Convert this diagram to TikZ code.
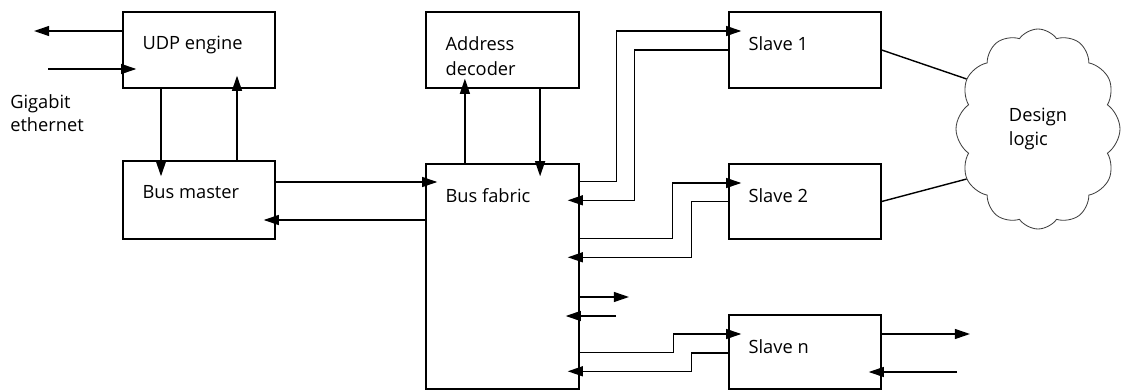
\documentclass[tikz,border=0pt]{standalone}
\usepackage{fontspec}
\setmainfont{Open Sans}
\usetikzlibrary{arrows.meta,positioning,shapes.symbols}

\tikzset{
  blk/.style={draw, line width=1pt, minimum width=3.8cm, minimum height=1.9cm, inner sep=0pt},
  tag/.style={anchor=north west, inner sep=0pt, xshift=0.5cm, yshift=-0.62cm, align=left, font=\fontsize{13}{18}\selectfont},
  txt/.style={inner sep=0pt, align=left, font=\fontsize{13}{16.5}\selectfont},
  sig/.style={line width=1pt, -{Triangle[length=0.38cm, width=0.25cm]}},
  wire/.style={line width=1pt},
}

\begin{document}
\begin{tikzpicture}
  \useasboundingbox (0,0) rectangle (28.05,9.75);

  % Blocks
  \node[blk, label={[tag]north west:UDP engine}] (udp) at (4.975,8.5) {};
  \node[blk, minimum height=1.95cm, label={[tag]north west:Bus master}] (master) at (4.975,4.75) {};
  \node[blk, minimum width=3.825cm, label={[tag]north west:Address\\decoder}] (addr) at (12.5625,8.5) {};
  \node[blk, minimum width=3.825cm, minimum height=5.625cm, label={[tag]north west:Bus fabric}] (fabric) at (12.5625,2.8375) {};
  \node[blk, label={[tag]north west:Slave 1}] (sl1) at (20.125,8.5) {};
  \node[blk, minimum height=1.875cm, label={[tag]north west:Slave 2}] (sl2) at (20.125,4.7125) {};
  \node[blk, minimum height=1.85cm, label={[tag]north west:Slave n}] (sln) at (20.125,0.95) {};

  % Design logic cloud
  \node[cloud, draw=black!75, line width=0.6pt, cloud puffs=12, cloud puff arc=110, aspect=0.85,
        minimum width=4.1cm, minimum height=5cm, txt] (logic) at (25.95,6.525) {Design\\logic};

  % Gigabit ethernet
  \node[txt, anchor=north west] (giga) at (0.25,7.4) {Gigabit\\ethernet};
  \coordinate (ethout) at (0.85,8.975);
  \coordinate (ethin) at (1.2,8.025);
  \draw[sig] (udp.west |- ethout) -- (ethout);
  \draw[sig, shorten >=-0.35cm] (ethin) -- (ethin -| udp.west);

  % UDP engine <-> bus master
  \draw[sig, shorten >=-0.4cm] ([xshift=-0.95cm]udp.south) -- ([xshift=-0.95cm]master.north);
  \draw[sig, shorten >=-0.325cm] ([xshift=0.95cm]master.north) -- ([xshift=0.95cm]udp.south);

  % Bus master <-> bus fabric
  \draw[sig, shorten >=-0.3cm] ([yshift=0.45cm]master.east) -- ([yshift=0.45cm]master.east -| fabric.west);
  \draw[sig, shorten >=-0.3cm] ([yshift=-0.5cm]master.east -| fabric.west) -- ([yshift=-0.5cm]master.east);

  % Bus fabric <-> address decoder
  \draw[sig, shorten >=-0.25cm] ([xshift=-0.94cm]fabric.north) -- ([xshift=-0.94cm]addr.south);
  \draw[sig, shorten >=-0.325cm] ([xshift=0.94cm]addr.south) -- ([xshift=0.94cm]fabric.north);

  % Bus fabric <-> slaves
  \draw[sig, shorten >=-0.325cm] ([yshift=-0.45cm]fabric.north east) -- ++(0.925,0) |- ([yshift=0.475cm]sl1.west);
  \draw[sig, shorten >=-0.3cm] (sl1.west) -- ++(-2.35,0) |- ([yshift=-0.925cm]fabric.north east);
  \draw[sig, shorten >=-0.325cm] ([yshift=-1.875cm]fabric.north east) -- ++(2.325,0) |- ([yshift=0.4625cm]sl2.west);
  \draw[sig, shorten >=-0.3cm] (sl2.west) -- ++(-0.925,0) |- ([yshift=-2.35cm]fabric.north east);
  \coordinate (stubout) at (15.725,2.325);
  \coordinate (stubin) at (15.4,1.85);
  \draw[sig] (stubout -| fabric.east) -- (stubout);
  \draw[sig, shorten >=-0.35cm] (stubin) -- (stubin -| fabric.east);
  \draw[sig, shorten >=-0.325cm] ([yshift=-4.725cm]fabric.north east) -- ++(2.35,0) |- ([yshift=0.45cm]sln.west);
  \draw[sig, shorten >=-0.3cm] ([yshift=-0.025cm]sln.west) -- ++(-0.925,0) |- ([yshift=-5.2cm]fabric.north east);

  % Slave n outputs
  \coordinate (nout) at (24.25,1.4);
  \coordinate (nin) at (23.925,0.45);
  \draw[sig] (nout -| sln.east) -- (nout);
  \draw[sig, shorten >=-0.325cm] (nin) -- (nin -| sln.east);

  % Slaves to design logic
  \draw[wire] (sl1.east) -- (logic.145);
  \draw[wire] (sl2.east) -- (logic.215);
\end{tikzpicture}
\end{document}
